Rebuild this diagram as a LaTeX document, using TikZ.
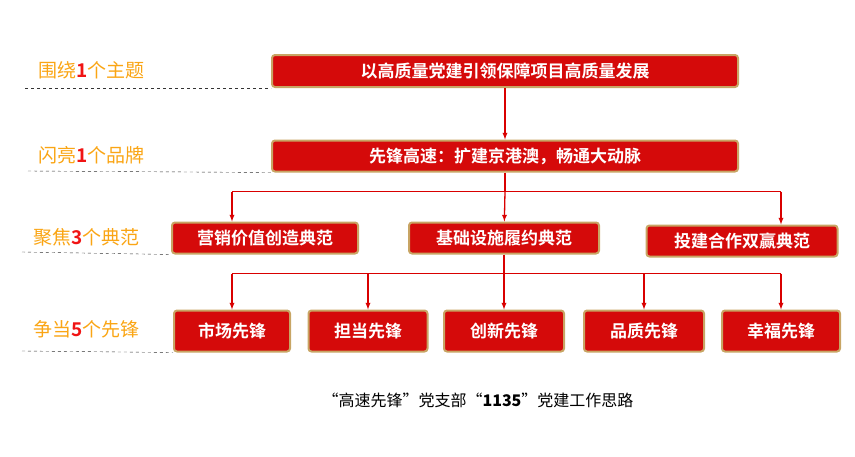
\documentclass[tikz,border=0pt]{standalone}
\usepackage{fontspec}
\newfontfamily\cjk{Noto Sans CJK SC}
\newfontfamily\cjkb{Noto Sans CJK SC Bold}
\usetikzlibrary{positioning,calc}
\definecolor{boxred}{RGB}{213,10,10}
\definecolor{boxgold}{RGB}{200,165,100}
\definecolor{lblorange}{RGB}{250,165,20}
\definecolor{numred}{RGB}{240,20,20}
\begin{document}
\begin{tikzpicture}[
    x=1pt, y=-1pt,
    redbox/.style={
        rectangle, rounded corners=3pt, fill=boxred, draw=boxgold, line width=2pt,
        text=white, font=\cjkb\fontsize{17}{17}\selectfont, inner sep=0pt
    },
    level/.style={
        font=\cjk\fontsize{19}{19}\selectfont, text=lblorange, anchor=west
    },
    guide/.style={dashed, thin, black!80},
    link/.style={red!85!black, line width=1.3pt},
    arr/.style={link, -latex}
]
    \useasboundingbox (0,0) rectangle (855,456);

    \node (theme) [redbox, minimum width=466pt, minimum height=32pt] at (505,71) {以高质量党建引领保障项目高质量发展};
    \node (brand) [redbox, minimum width=466pt, minimum height=31pt] at (505,156) {先锋高速：扩建京港澳，畅通大动脉};

    \node (mkt) [redbox, minimum width=186pt, minimum height=31pt] at (265,238) {营销价值创造典范};
    \node (inf) [redbox, minimum width=190pt, minimum height=31pt] at (504,238) {基础设施履约典范};
    \node (inv) [redbox, minimum width=191pt, minimum height=31pt] at (742,241) {投建合作双赢典范};

    \node (p1) [redbox, minimum width=116pt, minimum height=41pt] at (232,331) {市场先锋};
    \node (p2) [redbox, minimum width=119pt, minimum height=41pt] at (368,331) {担当先锋};
    \node (p3) [redbox, minimum width=120pt, minimum height=41pt] at (504,331) {创新先锋};
    \node (p4) [redbox, minimum width=120pt, minimum height=41pt] at (644,331) {品质先锋};
    \node (p5) [redbox, minimum width=118pt, minimum height=41pt] at (781,331) {幸福先锋};

    % left level labels
    \node (l1) [level] at (35,70) {围绕{\cjkb\color{numred}1}个主题};
    \node (l2) [level] at (35,155) {闪亮{\cjkb\color{numred}1}个品牌};
    \node (l3) [level] at (30,237) {聚焦{\cjkb\color{numred}3}个典范};
    \node (l4) [level] at (30,329) {争当{\cjkb\color{numred}5}个先锋};

    \draw [guide] (25,88) -- (theme.south west);
    \draw [guide] (28,171) -- (brand.south west);
    \draw [guide] (22,252) -- (mkt.south west);
    \draw [guide] (22,351) -- (p1.south west);

    % connectors
    \draw [arr] (theme) -- (brand);
    \coordinate (b1) at ($(brand.south)+(0,19)$);
    \draw [link] (brand) -- (b1);
    \draw [link] (b1 -| p1) -- (b1 -| p5);
    \draw [arr] (b1 -| p1) -- (p1 |- mkt.north);
    \draw [arr] (b1) -- (inf);
    \draw [arr] (b1 -| p5) -- (p5 |- inv.north);

    \coordinate (b2) at ($(inf.south)+(0,19)$);
    \draw [link] (inf) -- (b2);
    \draw [link] (b2 -| p1) -- (b2 -| p5);
    \foreach \n in {p1,p2,p3,p4,p5}
        \draw [arr] (b2 -| \n) -- (\n.north);

    \node (cap) [font=\cjk\fontsize{16}{16}\selectfont] at (478,400) {“高速先锋”党支部“\textbf{1135}”党建工作思路};
\end{tikzpicture}
\end{document}
